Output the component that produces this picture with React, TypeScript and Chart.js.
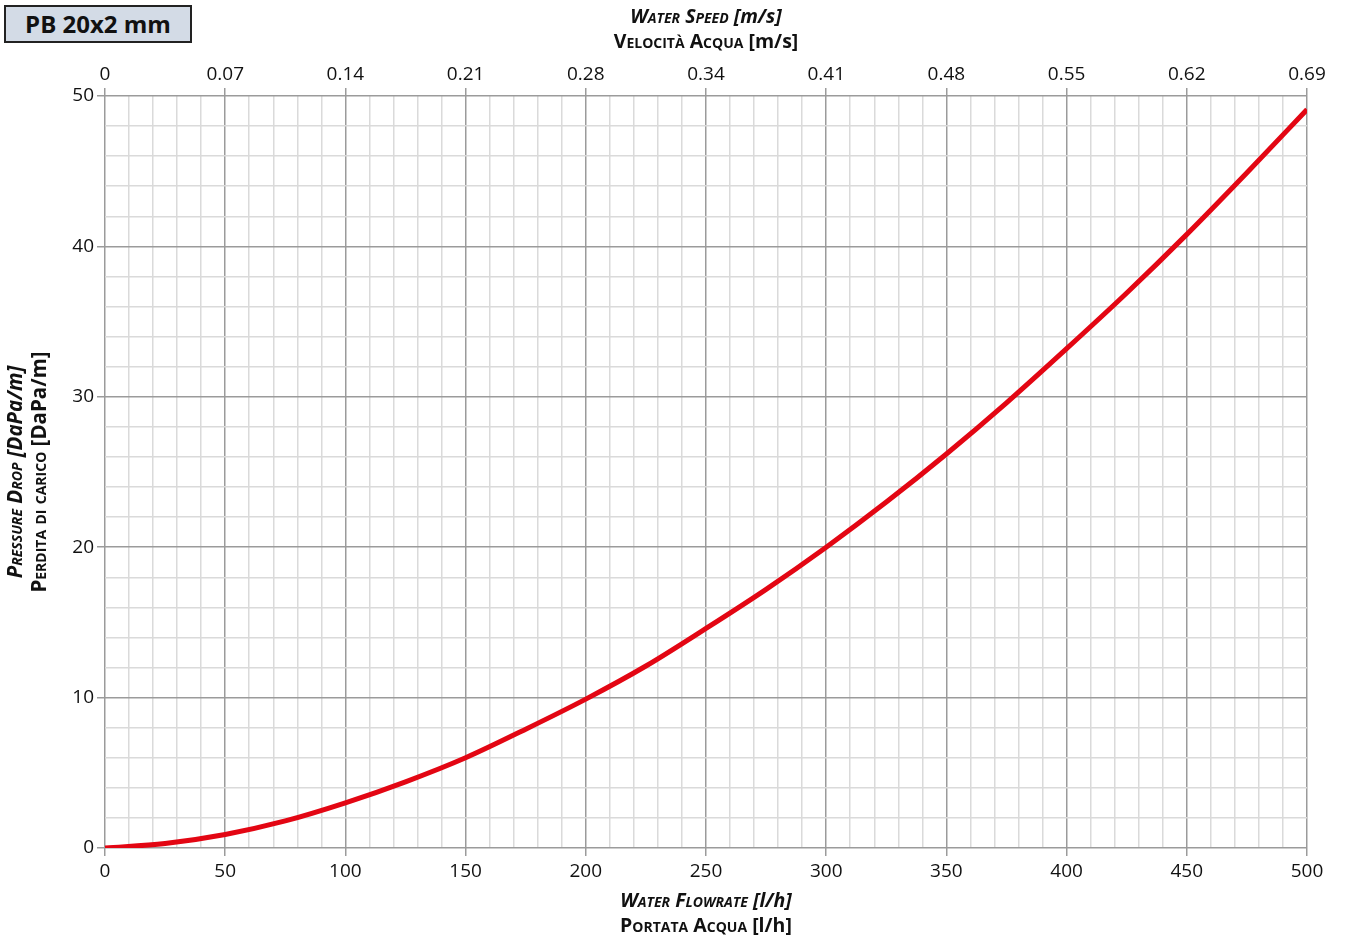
import React, { useEffect, useRef } from "react";
import { Chart, registerables } from "chart.js";

Chart.register(...registerables);

// Data
const flowRate = [0, 25, 50, 75, 100, 125, 150, 175, 200, 225, 250, 275, 300, 325, 350, 375, 400, 425, 450, 475, 500];
const pressureDrop = [0, 0.3, 0.9, 1.8, 3.0, 4.4, 6.0, 7.9, 9.9, 12.1, 14.6, 17.2, 20.0, 23.0, 26.2, 29.6, 33.2, 36.9, 40.8, 44.9, 49.1];
const speedLabels = ["0", "0.07", "0.14", "0.21", "0.28", "0.34", "0.41", "0.48", "0.55", "0.62", "0.69"];

const FAMILY = "'Open Sans', 'Noto Sans', sans-serif";
const MAJOR = "#9b9b9b";
const MINOR = "#dadada";

type Seg = { text: string; font: string };

function drawSegs(ctx: CanvasRenderingContext2D, segs: Seg[], x: number, y: number) {
  let total = 0;
  const widths = segs.map((s) => {
    ctx.font = s.font;
    const w = ctx.measureText(s.text).width;
    total += w;
    return w;
  });
  let cur = x - total / 2;
  ctx.textAlign = "left";
  ctx.textBaseline = "middle";
  segs.forEach((s, i) => {
    ctx.font = s.font;
    ctx.fillText(s.text, cur, y);
    cur += widths[i];
  });
}

const titlesPlugin = {
  id: "axisTitles",
  afterDraw(chart: any) {
    const ctx: CanvasRenderingContext2D = chart.ctx;
    const ca = chart.chartArea;
    const cx = (ca.left + ca.right) / 2;
    const cy = (ca.top + ca.bottom) / 2;
    const sz = 19.5;
    const scI = `italic small-caps 700 ${sz}px ${FAMILY}`;
    const nI = `italic 700 ${sz}px ${FAMILY}`;
    const sc = `small-caps 700 ${sz}px ${FAMILY}`;
    const n = `700 ${sz}px ${FAMILY}`;
    ctx.save();
    ctx.fillStyle = "#111";
    drawSegs(ctx, [{ text: "Water Speed", font: scI }, { text: " [m/s]", font: nI }], cx, 17);
    drawSegs(ctx, [{ text: "Velocità Acqua", font: sc }, { text: " [m/s]", font: n }], cx, 42);
    drawSegs(ctx, [{ text: "Water Flowrate", font: scI }, { text: " [l/h]", font: nI }], cx, 901);
    drawSegs(ctx, [{ text: "Portata Acqua", font: sc }, { text: " [l/h]", font: n }], cx, 926);
    ctx.translate(16, cy);
    ctx.rotate(-Math.PI / 2);
    const szL = 20.5;
    drawSegs(
      ctx,
      [
        { text: "Pressure Drop", font: `italic small-caps 700 ${szL}px ${FAMILY}` },
        { text: " [DaPa/m]", font: `italic 700 ${szL}px ${FAMILY}` },
      ],
      0,
      0
    );
    drawSegs(
      ctx,
      [
        { text: "Perdita di carico", font: `small-caps 700 ${szL}px ${FAMILY}` },
        { text: " [DaPa/m]", font: `700 ${szL}px ${FAMILY}` },
      ],
      0,
      24
    );
    ctx.restore();
  },
};

export default function App() {
  const ref = useRef<HTMLCanvasElement>(null);

  useEffect(() => {
    if (!ref.current) return;
    const tickFont = { family: FAMILY, size: 19 };
    const chart = new Chart(ref.current, {
      type: "line",
      data: {
        datasets: [
          {
            data: flowRate.map((x, i) => ({ x, y: pressureDrop[i] })),
            borderColor: "#e30613",
            borderWidth: 5,
            pointRadius: 0,
            cubicInterpolationMode: "monotone",
            fill: false,
          },
        ],
      },
      options: {
        responsive: false,
        animation: false,
        devicePixelRatio: 1,
        layout: { padding: { left: 0, right: 38, top: 0, bottom: 0 } },
        plugins: { legend: { display: false }, tooltip: { enabled: false }, title: { display: false } },
        scales: {
          x: {
            type: "linear",
            position: "bottom",
            min: 0,
            max: 500,
            afterFit: (s: any) => {
              s.height = 96;
            },
            ticks: {
              stepSize: 10,
              autoSkip: false,
              maxRotation: 0,
              padding: 4,
              color: "#111",
              font: tickFont,
              callback: (v: any) => (Number(v) % 50 === 0 ? String(v) : ""),
            },
            grid: {
              color: (c: any) => (c.tick && c.tick.value % 50 === 0 ? MAJOR : MINOR),
              tickColor: (c: any) => (c.tick && c.tick.value % 50 === 0 ? MAJOR : "rgba(0,0,0,0)"),
              lineWidth: 1.5,
              tickLength: 8,
            },
            border: { display: false },
          },
          x2: {
            type: "linear",
            position: "top",
            min: 0,
            max: 500,
            afterFit: (s: any) => {
              s.height = 96;
            },
            ticks: {
              stepSize: 50,
              autoSkip: false,
              maxRotation: 0,
              padding: 2,
              color: "#111",
              font: tickFont,
              callback: (v: any) => speedLabels[Math.round(Number(v) / 50)],
            },
            grid: { drawOnChartArea: false, color: MAJOR, tickColor: MAJOR, lineWidth: 1.5, tickLength: 8 },
            border: { display: false },
          },
          y: {
            type: "linear",
            position: "left",
            min: 0,
            max: 50,
            afterFit: (s: any) => {
              s.width = 105;
            },
            ticks: {
              stepSize: 2,
              autoSkip: false,
              padding: 3,
              color: "#111",
              font: tickFont,
              callback: (v: any) => (Number(v) % 10 === 0 ? String(v) : ""),
            },
            grid: {
              color: (c: any) => (c.tick && c.tick.value % 10 === 0 ? MAJOR : MINOR),
              tickColor: (c: any) => (c.tick && c.tick.value % 10 === 0 ? MAJOR : "rgba(0,0,0,0)"),
              lineWidth: 1.5,
              tickLength: 8,
            },
            border: { display: false },
          },
        },
      },
      plugins: [titlesPlugin],
    } as any);
    return () => chart.destroy();
  }, []);

  return (
    <div style={{ position: "fixed", left: 0, top: 0, width: 1345, height: 944, background: "#fff" }}>
      <canvas ref={ref} width={1345} height={944} style={{ position: "absolute", left: 0, top: 0 }} />
      <div
        style={{
          position: "absolute",
          left: 4,
          top: 5,
          width: 184,
          height: 34,
          border: "2px solid #222",
          background: "#d3dbe6",
          fontFamily: FAMILY,
          fontWeight: 700,
          fontSize: 24,
          lineHeight: "34px",
          textAlign: "center",
          color: "#111",
        }}
      >
        PB 20x2 mm
      </div>
    </div>
  );
}
